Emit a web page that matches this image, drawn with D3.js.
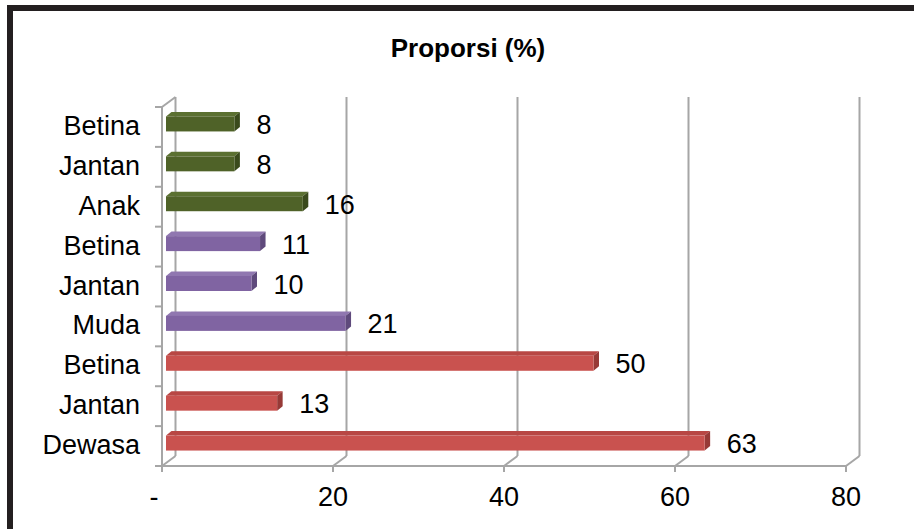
<!DOCTYPE html>
<html><head><meta charset="utf-8">
<script src="https://cdn.jsdelivr.net/npm/d3@7"></script>
<style>html,body{margin:0;padding:0;background:#fff;}svg{display:block;}</style>
</head><body>
<svg id="chart" width="914" height="529"></svg>
<script>
const title = "Proporsi (%)";
const categories = ["Betina","Jantan","Anak","Betina","Jantan","Muda","Betina","Jantan","Dewasa"];
const values = [8, 8, 16, 11, 10, 21, 50, 13, 63];
const groups = ["Anak","Anak","Anak","Muda","Muda","Muda","Dewasa","Dewasa","Dewasa"];
const tickValues = [0, 20, 40, 60, 80];
const tickLabels = ["-", "20", "40", "60", "80"];
const groupColors = {
  Anak:   {front:"#4f6228", top:"#5b7031", side:"#3a4a1c"},
  Muda:   {front:"#8064a2", top:"#9077b0", side:"#5f4a7c"},
  Dewasa: {front:"#c9524f", top:"#b84744", side:"#973a37"}
};

const svg = d3.select("#chart");
const font = "'Liberation Sans', Arial, sans-serif";

// plot geometry (front plane + depth)
const front = {left:162, right:846, top:107, bottom:466};
const depth = {dx:13.5, dy:-10};
const x = d3.scaleLinear().domain([0, 80]).range([front.left, front.right]);
const y = d3.scaleBand().domain(d3.range(categories.length)).range([front.top, front.bottom]).paddingInner(0).paddingOuter(0);

// outer frame
svg.append("rect").attr("x",10).attr("y",8).attr("width",1000).attr("height",1000)
  .attr("fill","none").attr("stroke","#231f20").attr("stroke-width",6);

// title
svg.append("text").attr("x",468).attr("y",57).attr("text-anchor","middle")
  .attr("font-family",font).attr("font-weight","bold").attr("font-size",26)
  .attr("fill","#000").text(title);

const grid = svg.append("g").attr("stroke","#a6a6a6").attr("stroke-width",2).attr("fill","none");
// back wall gridlines + floor diagonals + front ticks
tickValues.forEach(v => {
  const xf = x(v), xb = x(v) + depth.dx;
  grid.append("line").attr("x1",xb).attr("x2",xb).attr("y1",front.top+depth.dy).attr("y2",front.bottom+depth.dy);
  grid.append("line").attr("x1",xb).attr("y1",front.bottom+depth.dy).attr("x2",xf).attr("y2",front.bottom);
  grid.append("line").attr("x1",xf).attr("x2",xf).attr("y1",front.bottom).attr("y2",front.bottom+6);
});
// front baseline
grid.append("line").attr("x1",x(0)).attr("x2",x(80)).attr("y1",front.bottom).attr("y2",front.bottom);
// left side wall front edge + top diagonal
grid.append("line").attr("x1",x(0)).attr("x2",x(0)).attr("y1",front.top).attr("y2",front.bottom);
grid.append("line").attr("x1",x(0)).attr("y1",front.top).attr("x2",x(0)+depth.dx).attr("y2",front.top+depth.dy);
// category ticks
const catTicks = d3.range(categories.length + 1).map(i => front.top + i * y.step());
catTicks.forEach(t => {
  grid.append("line").attr("x1",x(0)-7).attr("x2",x(0)).attr("y1",t).attr("y2",t);
});

// bars (3D)
const barH = 15, fOff = {dx:4, dy:-3}, bDepth = {dx:5.5, dy:-4.5};
const bars = svg.append("g");
values.forEach((v, i) => {
  const c = groupColors[groups[i]];
  const x0 = x(0) + fOff.dx, x1 = x(v) + fOff.dx;
  const yc = y(i) + y.bandwidth()/2 + fOff.dy;
  const y0 = yc - barH/2, y1 = yc + barH/2;
  // top face
  bars.append("path").attr("d", `M${x0},${y0}L${x0+bDepth.dx},${y0+bDepth.dy}L${x1+bDepth.dx},${y0+bDepth.dy}L${x1},${y0}Z`).attr("fill", c.top);
  // side face
  bars.append("path").attr("d", `M${x1},${y0}L${x1+bDepth.dx},${y0+bDepth.dy}L${x1+bDepth.dx},${y1+bDepth.dy}L${x1},${y1}Z`).attr("fill", c.side);
  // front face
  bars.append("rect").attr("x",x0).attr("y",y0).attr("width",x1-x0).attr("height",barH).attr("fill",c.front);
  // value label
  svg.append("text").attr("x", x1 + 22).attr("y", yc + 10)
    .attr("font-family",font).attr("font-size",27).attr("fill","#000").text(v);
});

// category labels
categories.forEach((c, i) => {
  svg.append("text").attr("x",140).attr("y", y(i) + y.bandwidth()/2 + 8)
    .attr("text-anchor","end").attr("font-family",font).attr("font-size",27)
    .attr("fill","#000").text(c);
});

// x tick labels
tickValues.forEach((v, i) => {
  svg.append("text").attr("x", i === 0 ? x(v) - 8 : x(v)).attr("y", 506)
    .attr("text-anchor","middle").attr("font-family",font).attr("font-size",27)
    .attr("fill","#000").text(tickLabels[i]);
});
</script>
</body></html>
